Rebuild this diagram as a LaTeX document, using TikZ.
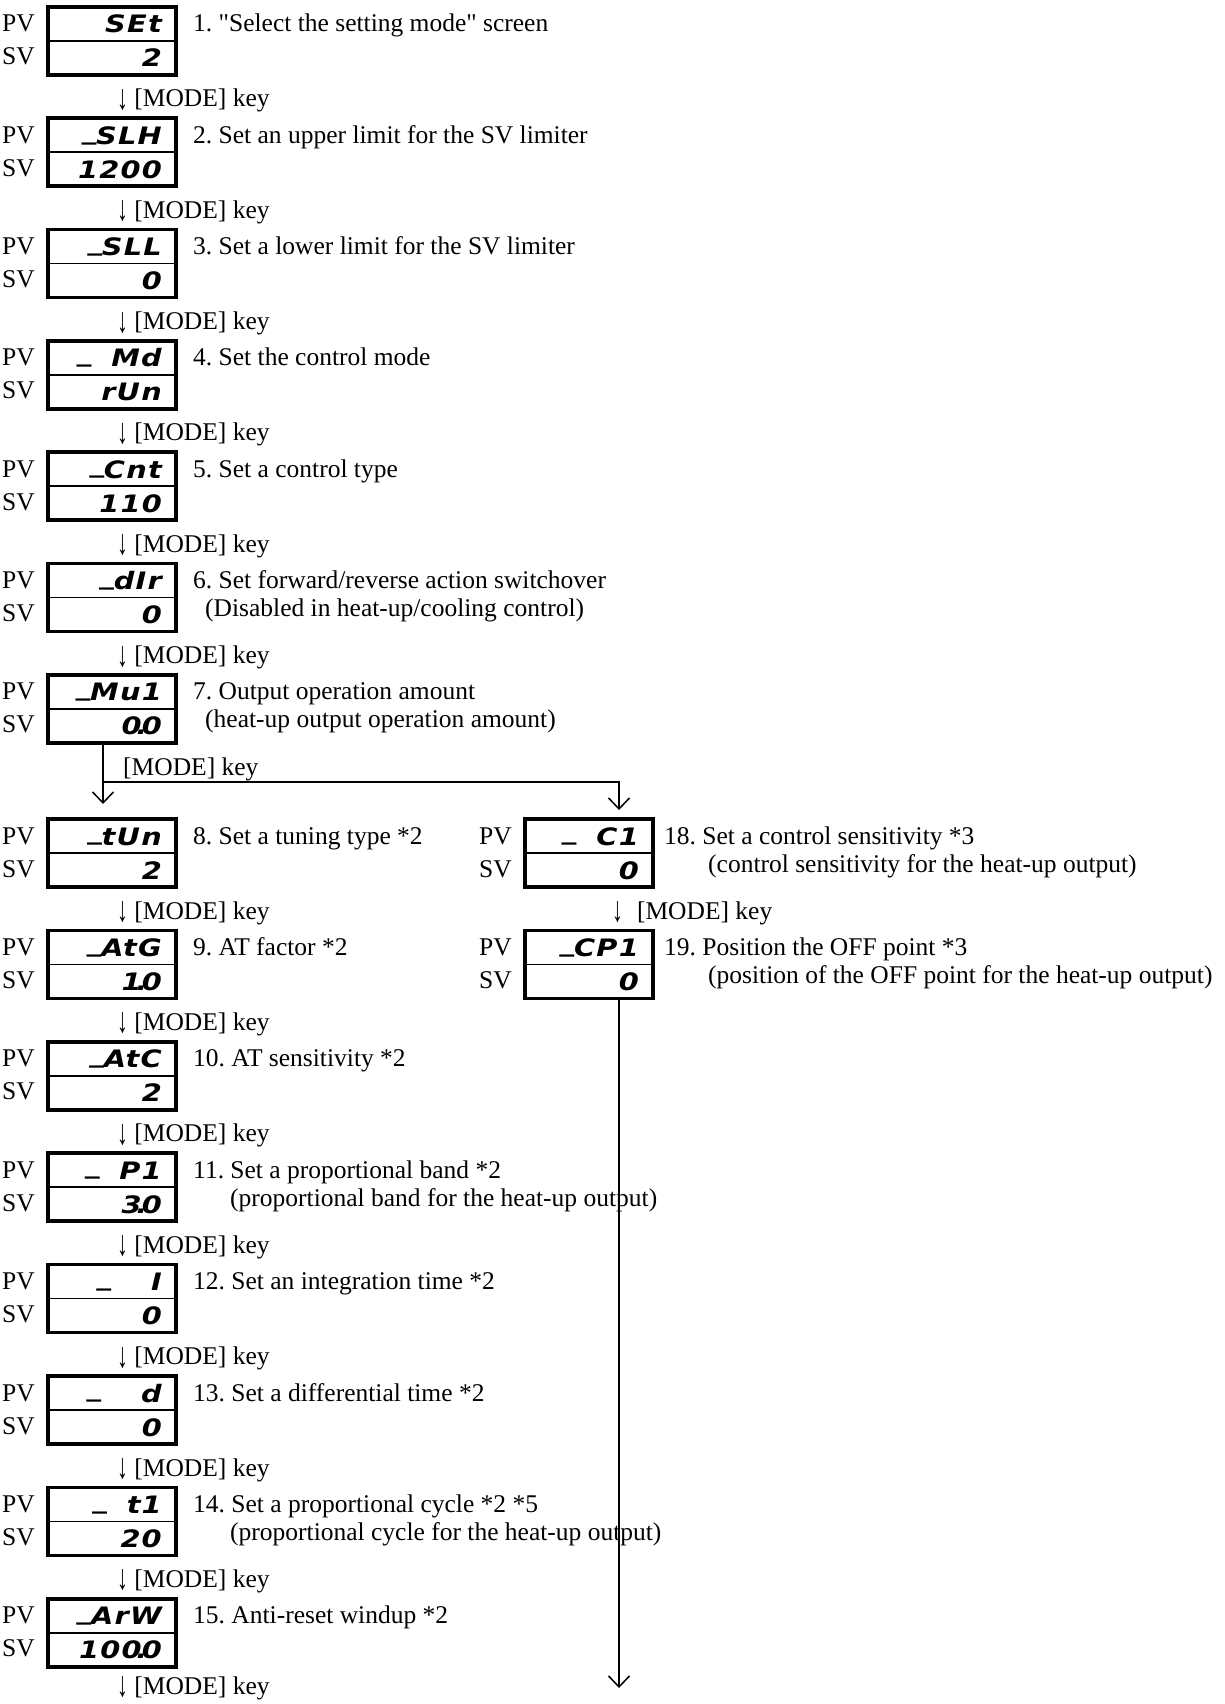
\documentclass[tikz,border=0pt]{standalone}
\usepackage{fontspec}
\usepackage{graphicx}
\setmainfont{Liberation Serif}[Ligatures=TeXOff]
\newfontfamily\segfont{DejaVu Sans Bold Oblique}[LetterSpace=5,FakeStretch=1.2]
\usetikzlibrary{arrows.meta}
\newcommand\us{\raisebox{0.22em}{\_}}
\newcommand\sdp{\makebox[0pt]{.}}
\newcommand\sbl{\hphantom{0}}
\newcommand\darr{\raisebox{-0.1em}{\scalebox{0.85}[1.4]{↓}}}
\tikzset{
  lab/.style={inner sep=0pt, font=\fontsize{25.5}{28}\selectfont},
  seg/.style={inner sep=0pt, font=\segfont\fontsize{24}{28}\selectfont},
  dbox/.style={draw, line width=3.6pt, minimum width=128pt, minimum height=68pt, inner sep=0pt, outer sep=0pt},
  divl/.style={line width=1.6pt},
  conn/.style={line width=1.5pt},
  tip/.style={-{Straight Barb[length=11pt,width=21pt]}}
}
% name, left x, top y, pv text, sv text
\newcommand\dispbox[5]{%
  \node[dbox,anchor=north west] (#1) at ({#2+2},{#3+2}) {};
  \draw[divl] (#1.west) -- (#1.east);
  \node[lab,anchor=base east] (#1pv) at ({#2-11},{#3+27}) {PV};
  \node[lab,anchor=base east] (#1sv) at ({#2-11},{#3+60}) {SV};
  \node[seg,anchor=base east] (#1a) at ({#2+116},{#3+28}) {#4};
  \node[seg,anchor=base east] (#1b) at ({#2+116},{#3+62}) {#5};
}
\begin{document}
\frenchspacing
\begin{tikzpicture}[x=1pt,y=-1pt]
\fill[white] (0,0) rectangle (1224,1704);
\useasboundingbox (0,0) rectangle (1224,1704);

% ---- left column, first part
\dispbox{b1}{46}{5}{SEt}{2}
\node[lab,anchor=base west] (t1) at (193,32) {1. "Select the setting mode" screen};
\node[lab,anchor=base west] (k1) at (117,107) {\darr\ [MODE] key};

\dispbox{b2}{46}{116.3}{\us SLH}{1200}
\node[lab,anchor=base west] (t2) at (193,143.3) {2. Set an upper limit for the SV limiter};
\node[lab,anchor=base west] (k2) at (117,218.3) {\darr\ [MODE] key};

\dispbox{b3}{46}{227.6}{\us SLL}{0}
\node[lab,anchor=base west] (t3) at (193,254.6) {3. Set a lower limit for the SV limiter};
\node[lab,anchor=base west] (k3) at (117,329.6) {\darr\ [MODE] key};

\dispbox{b4}{46}{338.9}{\us\sbl Md}{rUn}
\node[lab,anchor=base west] (t4) at (193,365.9) {4. Set the control mode};
\node[lab,anchor=base west] (k4) at (117,440.9) {\darr\ [MODE] key};

\dispbox{b5}{46}{450.2}{\us Cnt}{110}
\node[lab,anchor=base west] (t5) at (193,477.2) {5. Set a control type};
\node[lab,anchor=base west] (k5) at (117,552.2) {\darr\ [MODE] key};

\dispbox{b6}{46}{561.5}{\us dIr}{0}
\node[lab,anchor=base west] (t6) at (193,588.5) {6. Set forward/reverse action switchover};
\node[lab,anchor=base west] (t6b) at (205,616.5) {(Disabled in heat-up/cooling control)};
\node[lab,anchor=base west] (k6) at (117,663.5) {\darr\ [MODE] key};

\dispbox{b7}{46}{672.8}{\us Mu1}{0\sdp 0}
\node[lab,anchor=base west] (t7) at (193,699.8) {7. Output operation amount};
\node[lab,anchor=base west] (t7b) at (205,727.8) {(heat-up output operation amount)};
\node[lab,anchor=base west] (k7) at (123,775) {[MODE] key};

% ---- left column, second part
\dispbox{b8}{46}{817}{\us tUn}{2}
\node[lab,anchor=base west] (t8) at (193,844) {8. Set a tuning type *2};
\node[lab,anchor=base west] (k8) at (117,919) {\darr\ [MODE] key};

\dispbox{b9}{46}{928.4}{\us AtG}{1\sdp 0}
\node[lab,anchor=base west] (t9) at (193,955.4) {9. AT factor *2};
\node[lab,anchor=base west] (k9) at (117,1030.4) {\darr\ [MODE] key};

\dispbox{b10}{46}{1039.8}{\us AtC}{2}
\node[lab,anchor=base west] (t10) at (193,1066.8) {10. AT sensitivity *2};
\node[lab,anchor=base west] (k10) at (117,1141.8) {\darr\ [MODE] key};

\dispbox{b11}{46}{1151.2}{\us\sbl P1}{3\sdp 0}
\node[lab,anchor=base west] (t11) at (193,1178.2) {11. Set a proportional band *2};
\node[lab,anchor=base west] (t11b) at (230,1206.2) {(proportional band for the heat-up output)};
\node[lab,anchor=base west] (k11) at (117,1253.2) {\darr\ [MODE] key};

\dispbox{b12}{46}{1262.6}{\us\sbl\sbl I}{0}
\node[lab,anchor=base west] (t12) at (193,1289.6) {12. Set an integration time *2};
\node[lab,anchor=base west] (k12) at (117,1364.6) {\darr\ [MODE] key};

\dispbox{b13}{46}{1374}{\us\sbl\sbl d}{0}
\node[lab,anchor=base west] (t13) at (193,1401) {13. Set a differential time *2};
\node[lab,anchor=base west] (k13) at (117,1476) {\darr\ [MODE] key};

\dispbox{b14}{46}{1485.4}{\us\sbl t1}{20}
\node[lab,anchor=base west] (t14) at (193,1512.4) {14. Set a proportional cycle *2 *5};
\node[lab,anchor=base west] (t14b) at (230,1540.4) {(proportional cycle for the heat-up output)};
\node[lab,anchor=base west] (k14) at (117,1587.4) {\darr\ [MODE] key};

\dispbox{b15}{46}{1596.8}{\us ArW}{100\sdp 0}
\node[lab,anchor=base west] (t15) at (193,1623.8) {15. Anti-reset windup *2};
\node[lab,anchor=base west] (k15) at (117,1694) {\darr\ [MODE] key};

% ---- right column
\dispbox{b18}{523}{817}{\us\sbl C1}{0}
\node[lab,anchor=base west] (t18) at (664,844) {18. Set a control sensitivity *3};
\node[lab,anchor=base west] (t18b) at (708,872) {(control sensitivity for the heat-up output)};
\node[lab,anchor=base west] (k18) at (612,919) {\darr\hspace{14pt}[MODE] key};

\dispbox{b19}{523}{928.4}{\us CP1}{0}
\node[lab,anchor=base west] (t19) at (664,955.4) {19. Position the OFF point *3};
\node[lab,anchor=base west] (t19b) at (708,983.4) {(position of the OFF point for the heat-up output)};

% ---- connectors
\coordinate (br) at (103,782);
\coordinate (endR) at (619,1688);
\draw[conn,tip] (b7.south west -| br) -- ([yshift=15pt]b8.north west -| br);
\draw[conn,tip] (br) -| ([yshift=9pt]b18.north west -| endR);
\draw[conn,tip] (b19.south west -| endR) -- (endR);
\end{tikzpicture}
\end{document}
